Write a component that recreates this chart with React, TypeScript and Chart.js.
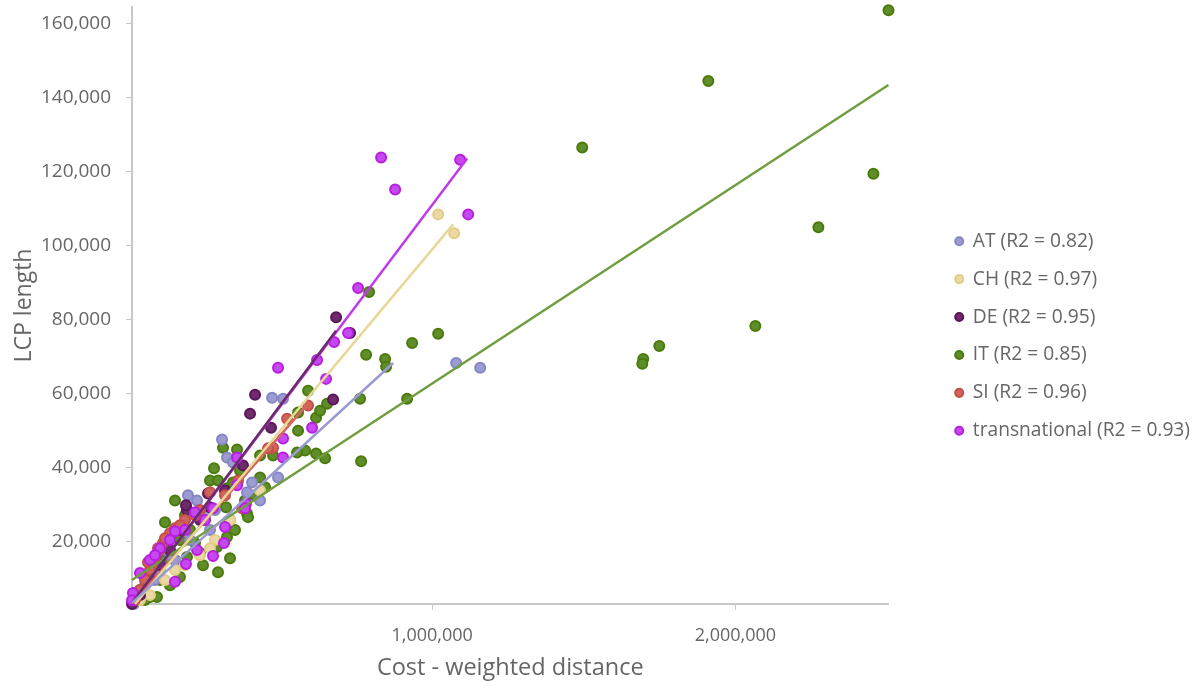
import React, { useEffect, useRef } from 'react';
import { Chart, registerables } from 'chart.js';

Chart.register(...registerables);

// ---- Data ----
const categories = [
  'AT (R2 = 0.82)',
  'CH (R2 = 0.97)',
  'DE (R2 = 0.95)',
  'IT (R2 = 0.85)',
  'SI (R2 = 0.96)',
  'transnational (R2 = 0.93)',
];

const atX = [1158300, 1079100, 508200, 471900, 306900, 323400, 343200, 491700, 405900, 389400, 194700, 224400, 250800, 283800, 201300, 151800, 102300, 52800, 36300, 16500, 432300, 333300, 135300, 85800, 29700, 267300];
const atY = [66900, 68200, 58500, 58800, 47500, 42600, 41300, 37200, 35900, 33200, 32400, 31000, 27000, 28400, 20300, 14900, 12200, 8100, 4100, 3000, 31000, 25700, 16200, 9500, 5400, 23000];

const chX = [1019700, 1072500, 69300, 118800, 184800, 234300, 283800, 333300, 382800, 36300, 151800, 267300, 432300];
const chY = [108400, 103300, 5400, 9500, 13500, 16200, 20300, 25700, 29700, 4100, 12200, 18100, 33700];

const deX = [683100, 729300, 673200, 415800, 399300, 468600, 376200, 260700, 191400, 267300, 188100, 234300, 135300, 69300, 36300, 9900, 102300, 316800, 168300];
const deY = [80600, 76300, 58300, 59600, 54500, 50700, 40500, 32900, 28400, 29200, 29700, 25700, 17600, 9500, 5400, 3000, 13500, 33700, 23000];

const itX = [2505000, 1910700, 1494900, 2455200, 2273700, 2065800, 1749000, 1696200, 1692900, 1019700, 933900, 917400, 844800, 848100, 792000, 782100, 762300, 765600, 646800, 617100, 580800, 554400, 557700, 617100, 630300, 653400, 590700, 475200, 432300, 356400, 310200, 280500, 267300, 293700, 323400, 343200, 432300, 448800, 151800, 320100, 389400, 392700, 118800, 349800, 323400, 217800, 234300, 290400, 333300, 244200, 293700, 168300, 135300, 92400, 69300, 191400, 36300, 52800, 102300, 201300, 250800, 168300, 382800, 366300, 415800, 184800, 151800, 69300, 118800, 19800, 557700];
const itY = [163600, 144500, 126500, 119400, 104900, 78200, 72800, 69300, 68000, 76100, 73600, 58500, 69300, 67200, 87400, 70400, 58500, 41600, 42400, 43700, 44500, 44000, 49900, 53400, 55300, 57200, 60700, 43200, 43200, 44800, 45300, 39700, 36400, 36400, 34300, 35900, 37200, 34600, 31000, 29200, 27500, 26500, 25100, 23000, 21100, 19500, 16800, 18400, 15400, 13500, 11600, 10300, 8100, 4900, 4900, 15700, 6800, 4100, 9500, 23000, 25700, 20300, 31000, 39100, 32400, 27000, 14900, 10800, 14900, 4600, 54800];

const siX = [590700, 521400, 475200, 458700, 359700, 267300, 372900, 135300, 112200, 85800, 75900, 52800, 102300, 151800, 184800, 217800, 69300, 36300, 19800, 118800, 95700, 234300, 316800, 168300, 62700];
const siY = [56700, 53100, 45300, 45100, 36400, 33200, 28900, 22200, 19500, 15700, 13500, 9500, 17600, 23500, 25700, 27000, 12200, 6800, 4100, 20800, 18100, 28400, 32400, 24300, 14300];

const trX = [831600, 1092300, 877800, 1118700, 755700, 491700, 620400, 676500, 722700, 650100, 603900, 508200, 508200, 356400, 386100, 382800, 217800, 151800, 316800, 277200, 356400, 224400, 277200, 188100, 313500, 151800, 36300, 13200, 10000, 69300, 102300, 135300, 250800, 184800, 85800];
const trY = [123800, 123200, 115100, 108400, 88500, 66900, 69000, 73900, 76300, 63900, 50700, 47800, 42600, 42600, 30200, 28900, 27800, 22700, 23800, 28900, 35100, 17600, 16000, 13800, 19500, 9000, 11400, 6000, 4000, 14900, 18100, 20300, 25700, 23000, 16200];

// Trend line end points (start, end)
const trendATx = [9900, 871200];
const trendATy = [3300, 68200];
const trendCHx = [19800, 1069200];
const trendCHy = [3000, 105700];
const trendDEx = [9900, 683100];
const trendDEy = [3300, 76900];
const trendITx = [9900, 2504700];
const trendITy = [9500, 143400];
const trendSIx = [13200, 590700];
const trendSIy = [3300, 57200];
const trendTRx = [10000, 1115400];
const trendTRy = [3300, 123500];

const xTickValues = [1000000, 2000000];
const yTickValues = [20000, 40000, 60000, 80000, 100000, 120000, 140000, 160000];

// ---- Styles ----
const ringColors = ['#8686c2', '#e2cc86', '#5a1658', '#4a7a0c', '#c44f48', '#b81ee0'];
const fillColors = ['#9c9cd2', '#ead9a2', '#6e2c6c', '#5e8d2a', '#d0645c', '#c648f0'];
const lineColors = ['#9a9ad2', '#e8d898', '#6a2a6a', '#6f9d3f', '#d4675a', '#c03ae8'];
const drawOrder = [6, 5, 4, 7, 3, 2];

const FONT = "'Segoe UI', 'Open Sans', sans-serif";
const fmt = new Intl.NumberFormat('en-US');

const toPoints = (xs: number[], ys: number[]) => xs.map((x, i) => ({ x, y: ys[i] }));

export default function App() {
  const ref = useRef<HTMLCanvasElement>(null);

  useEffect(() => {
    if (!ref.current) return;
    const seriesX = [atX, chX, deX, itX, siX, trX];
    const seriesY = [atY, chY, deY, itY, siY, trY];
    const trendX = [trendATx, trendCHx, trendDEx, trendITx, trendSIx, trendTRx];
    const trendY = [trendATy, trendCHy, trendDEy, trendITy, trendSIy, trendTRy];

    const scatterSets = categories.map((label, i) => ({
      label,
      data: toPoints(seriesX[i], seriesY[i]),
      backgroundColor: fillColors[i],
      borderColor: ringColors[i],
      borderWidth: 2,
      pointRadius: 5,
      pointHoverRadius: 5,
      pointBackgroundColor: fillColors[i],
      pointBorderColor: ringColors[i],
      pointBorderWidth: 2,
      showLine: false,
      order: drawOrder[i],
      clip: false as const,
    }));

    const trendSets = categories.map((label, i) => ({
      label: label + ' trend',
      data: toPoints(trendX[i], trendY[i]),
      borderColor: lineColors[i],
      backgroundColor: lineColors[i],
      borderWidth: 2.5,
      pointRadius: 0,
      showLine: true,
      order: 1,
      clip: false as const,
    }));

    const chart = new Chart(ref.current, {
      type: 'scatter',
      data: { datasets: [...scatterSets, ...trendSets] as any },
      options: {
        animation: false,
        responsive: true,
        maintainAspectRatio: false,
        events: [],
        font: { family: FONT },
        layout: { padding: { left: 0, right: -4, top: 0, bottom: 14 } },
        plugins: {
          tooltip: { enabled: false },
          legend: {
            position: 'right',
            align: 'center',
            maxWidth: 400,
            labels: {
              usePointStyle: true,
              pointStyle: 'circle',
              boxWidth: 8,
              boxHeight: 5.7,
              padding: 18.7,
              color: '#666666',
              font: { size: 19.2, family: FONT },
              filter: (item: any) => item.datasetIndex < 6,
              sort: (a: any, b: any) => a.datasetIndex - b.datasetIndex,
            },
          },
        },
        scales: {
          x: {
            type: 'linear',
            min: 10000,
            max: 2505000,
            afterBuildTicks: (s: any) => {
              s.ticks = xTickValues.map((v) => ({ value: v }));
            },
            afterFit: (s: any) => {
              s.height = 68;
            },
            ticks: {
              color: '#666666',
              font: { size: 18, family: FONT },
              padding: 15,
              maxRotation: 0,
              callback: (v: any) => fmt.format(Number(v)),
            },
            grid: { drawOnChartArea: false, drawTicks: true, tickLength: 6, color: '#c8c8c8' },
            border: { display: true, color: '#c8c8c8', width: 2 },
            title: {
              display: true,
              text: 'Cost - weighted distance',
              color: '#666666',
              font: { size: 23.5, family: FONT },
              padding: { top: 0, bottom: -10 },
            },
          },
          y: {
            type: 'linear',
            min: 3000,
            max: 164500,
            afterBuildTicks: (s: any) => {
              s.ticks = yTickValues.map((v) => ({ value: v }));
            },
            afterFit: (s: any) => {
              s.width = 132;
              s.paddingTop = 5;
              s.paddingBottom = 0;
            },
            ticks: {
              color: '#666666',
              font: { size: 19, family: FONT },
              padding: 15,
              callback: (v: any) => fmt.format(Number(v)),
            },
            grid: { drawOnChartArea: false, drawTicks: true, tickLength: 6, color: '#c8c8c8' },
            border: { display: true, color: '#c8c8c8', width: 2 },
            title: {
              display: true,
              text: 'LCP length',
              color: '#666666',
              font: { size: 23, family: FONT },
              padding: { top: 11, bottom: 0 },
            },
          },
          gap: {
            type: 'linear',
            position: 'right',
            display: true,
            grid: { display: false },
            border: { display: false },
            ticks: { display: false },
            afterFit: (s: any) => {
              s.width = 48;
            },
          },
        },
      } as any,
    });
    return () => chart.destroy();
  }, []);

  return (
    <div style={{ position: 'fixed', left: 0, top: 0, width: 1196, height: 686 }}>
      <canvas ref={ref} />
    </div>
  );
}
